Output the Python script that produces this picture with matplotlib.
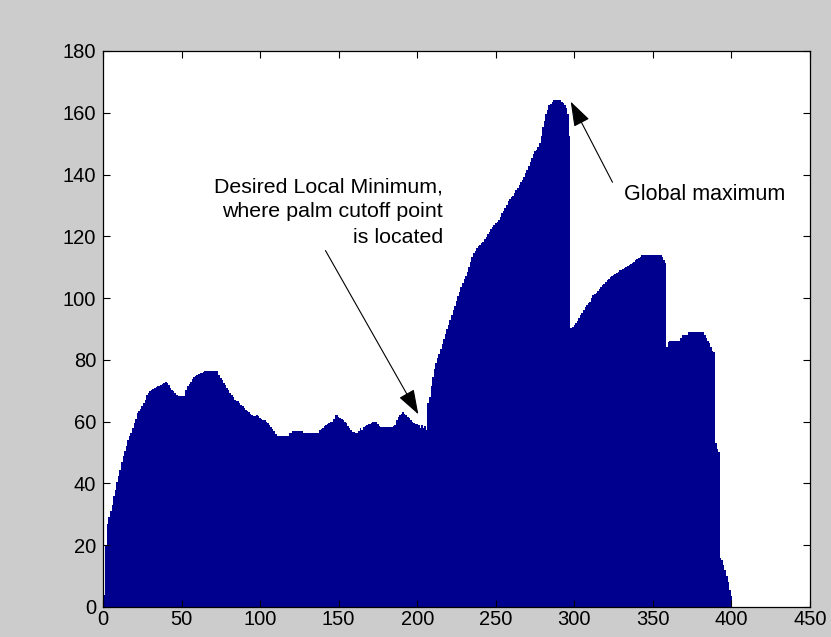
import numpy as np
import matplotlib
matplotlib.use("Agg")
import matplotlib.pyplot as plt

plt.rcParams['font.family'] = ['Liberation Sans', 'DejaVu Sans']

# histogram counts for bins 1..400
counts = [
    4, 20, 27, 29, 31, 33, 36, 38, 40.5, 42.5,
    44.5, 47, 49, 50.5, 52, 54, 55.5, 56.3, 58, 59.5,
    61, 62.8, 63.3, 64, 65, 66, 67, 68.5, 69.4, 69.8,
    70.3, 70.6, 70.9, 71.2, 71.4, 71.7, 72, 72.2, 72.5, 73,
    72.6, 72, 71, 70.4, 69.8, 69.2, 68.6, 68.2, 68.2, 68.2,
    68.3, 68.4, 70.3, 71.4, 72.2, 73, 73.8, 74.6, 74.9, 75.2,
    75.4, 75.7, 75.9, 76, 76.3, 76.3, 76.3, 76.3, 76.3, 76.3,
    76.3, 76.3, 76.3, 75.2, 74.1, 73.6, 72.5, 71.8, 71, 70.3,
    69.2, 68.7, 68, 67, 66.8, 66.6, 66, 65.5, 65, 64.4,
    63.8, 63.3, 63, 62.5, 62.1, 61.7, 61.9, 62.2, 61.7, 61.2,
    61, 60.6, 60.4, 60, 59.6, 59, 58.4, 57.6, 57, 56,
    55.2, 55.2, 55.2, 55.2, 55.2, 55.2, 55.2, 55.2, 56.3, 56.3,
    57, 57, 57, 57, 57, 57, 57, 56.3, 56.3, 56.3,
    56.3, 56.3, 56.3, 56.3, 56.3, 56.3, 56.3, 57.4, 57.6, 57.9,
    58.5, 59, 59.2, 59.5, 59.8, 60, 61, 62, 62, 61.5,
    61.1, 60.8, 60.6, 60, 59.5, 58.7, 57.9, 57.4, 56.8, 56.5,
    56.3, 56.3, 57, 57.9, 57.4, 58.2, 58.6, 59, 59.2, 59.3,
    59.6, 60, 59.9, 59.8, 59.2, 58.5, 58.3, 58.2, 58.2, 58.2,
    58.2, 58.2, 58.2, 58.2, 58.6, 59, 60.6, 61.4, 62.2, 62.6,
    63, 62.6, 62.2, 61.6, 61.1, 60.5, 59.8, 59.5, 59.3, 59.2,
    59, 58, 59, 58, 58.5, 57.4, 66, 68, 71.5, 74.6,
    77, 79, 80.5, 82, 83.6, 85.2, 86.8, 88.4, 90, 91.4,
    92.9, 94.5, 96, 97.6, 99.2, 100.6, 102, 103.6, 105, 106.1,
    107, 108.6, 110.2, 111.7, 113.2, 114.5, 115.3, 116.1, 116.8, 117.2,
    117.8, 118.3, 119.1, 119.9, 120.7, 121.5, 122.3, 123.1, 123.7, 124.2,
    124.7, 125.3, 126.4, 127.5, 128.3, 129.1, 130.2, 131.3, 132.1, 132.7,
    132.9, 134, 135, 135.8, 136.6, 137.5, 138.3, 139.3, 140.4, 141.6,
    142.8, 144.1, 145.4, 146.5, 147.5, 148, 149, 150.1, 152.5, 155.5,
    157.5, 159.5, 161, 162.5, 163, 163.6, 164, 164, 164, 164,
    164, 163.6, 163.3, 162.5, 161.5, 159.5, 152.4, 90.2, 90.7, 91.4,
    91.8, 92.6, 93.6, 94.4, 95.3, 96.2, 97.2, 97.8, 98.4, 98.9,
    99.9, 100.9, 101.3, 101.6, 102.3, 103, 103.6, 104.2, 104.7, 105.2,
    105.8, 106.2, 106.7, 107.2, 107.6, 107.8, 108, 108.6, 109.1, 109.2,
    109.3, 109.6, 110, 110.3, 110.7, 111, 111.3, 111.8, 112.3, 112.6,
    112.9, 113.4, 114, 114, 114, 114, 114, 114, 114, 114,
    114, 114, 114, 114, 114, 113.4, 112.3, 111.3, 84.3, 85.9,
    86.2, 86.2, 86.2, 86.2, 86.2, 86.2, 86.2, 87.2, 88, 88,
    88, 88, 89.1, 89.1, 89.1, 89.1, 89.1, 89.1, 89.1, 89.1,
    89.1, 89, 88, 87, 86.2, 85.5, 84.3, 83, 82.5, 53,
    51, 50.3, 16, 15.2, 13.6, 12, 10, 8, 5.6, 3.5,
]
bins = np.arange(1, len(counts) + 1)

xticks = np.arange(0, 451, 50)
yticks = np.arange(0, 181, 20)

min_label = "Desired Local Minimum,\nwhere palm cutoff point\nis located"
max_label = "Global maximum"

fig = plt.figure(figsize=(8.31, 6.37), dpi=100, facecolor='#cccccc')
ax = fig.add_axes([103 / 831, 30 / 637, 707 / 831, 556 / 637])

ax.bar(bins, counts, width=1.0, color='#00008f', linewidth=0, antialiased=False)

ax.set_xlim(0, 450)
ax.set_ylim(0, 180)
ax.set_xticks(xticks)
ax.set_yticks(yticks)
ax.tick_params(direction='in', top=True, right=True, length=5, width=0.8,
               labelsize=14.5, colors='black')
ax.tick_params(axis='x', pad=2)
ax.tick_params(axis='y', pad=5)
for sp in ax.spines.values():
    sp.set_linewidth(0.9)
    sp.set_zorder(3)

# annotations
ax.text(216.4, 127.9, min_label, ha='right', va='center', multialignment='right',
        fontsize=15.4, linespacing=1.42)
ax.annotate('', xy=(200.7, 62.4), xytext=(141.6, 115.4),
            arrowprops=dict(arrowstyle='-|>,head_length=1.1,head_width=0.38',
                            color='black', lw=0.8, shrinkA=0, shrinkB=0,
                            mutation_scale=14))

ax.text(331.6, 133.7, max_label, ha='left', va='center', fontsize=15.5)
ax.annotate('', xy=(297.7, 163.6), xytext=(324.3, 137.5),
            arrowprops=dict(arrowstyle='-|>,head_length=1.1,head_width=0.38',
                            color='black', lw=0.8, shrinkA=0, shrinkB=0,
                            mutation_scale=14))

fig.savefig('out.png', dpi=100, facecolor=fig.get_facecolor())
